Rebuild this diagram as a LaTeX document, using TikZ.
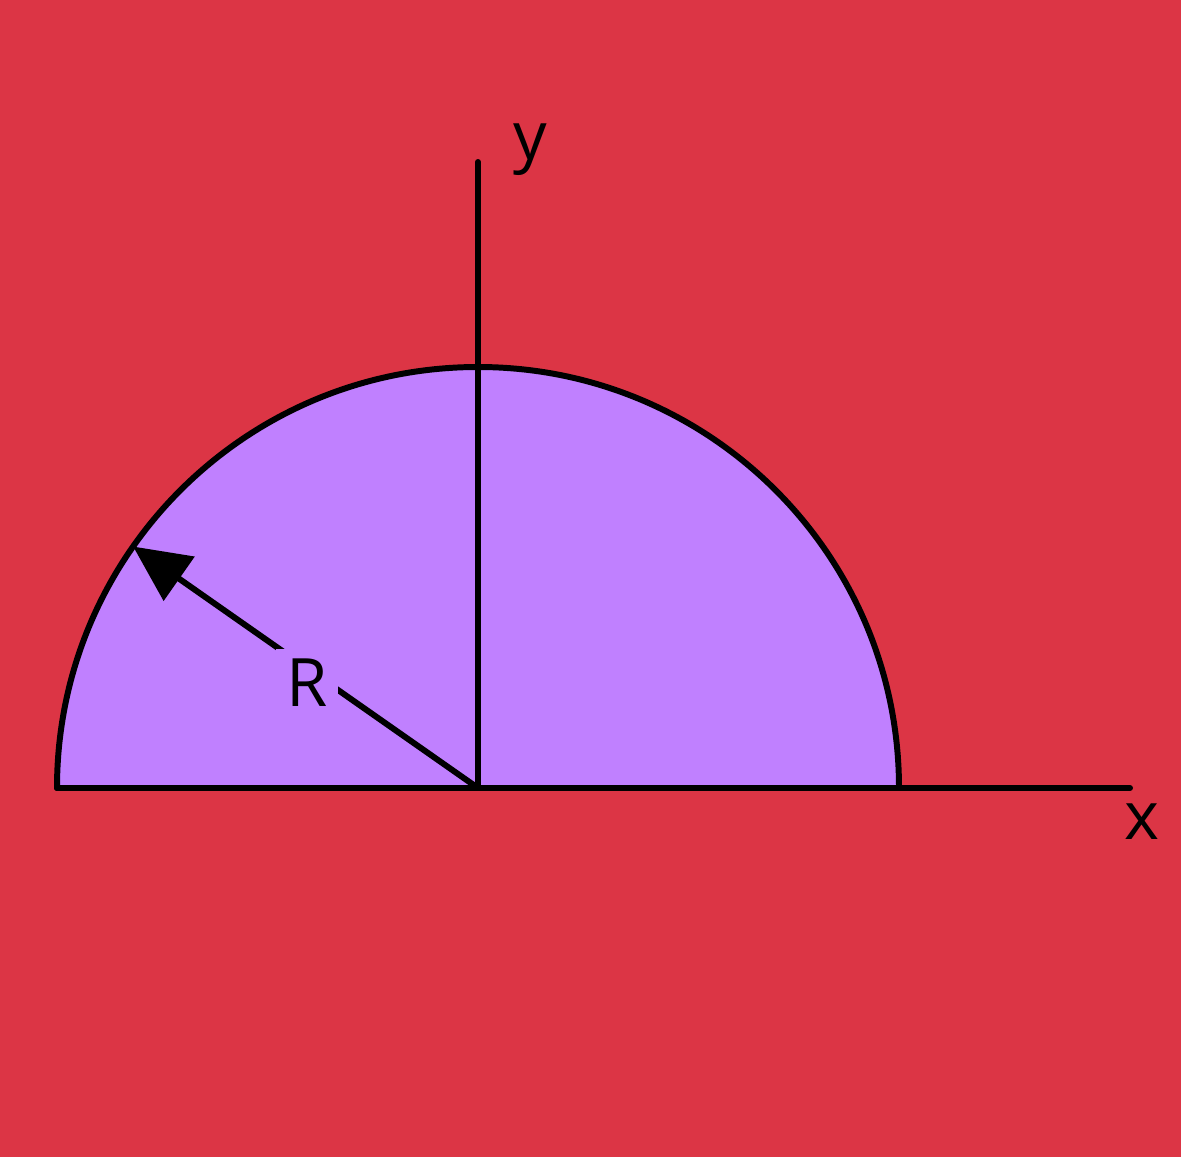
\documentclass[tikz,border=0pt]{standalone}
\usepackage{fontspec}
\setmainfont{Open Sans}
\usetikzlibrary{arrows.meta, positioning, calc}
\definecolor{bgred}{HTML}{DC3545}
\definecolor{discpurple}{HTML}{C080FF}
\tikzset{
  axisline/.style={line width=1.7pt, draw=black, line cap=round},
  rimline/.style={line width=1.7pt, draw=black, line join=round},
  radiusarrow/.style={-{Triangle[length=16pt, width=15pt]}, line width=1.7pt, draw=black},
  axislabel/.style={font=\fontsize{19}{22}\selectfont, inner sep=1pt},
}
\begin{document}
\begin{tikzpicture}
  % background
  \fill[bgred] (-4.78,-3.69) rectangle (7.03,7.88);
  \useasboundingbox (-4.78,-3.69) rectangle (7.03,7.88);

  \coordinate (O) at (0,0);
  \coordinate (Xend) at (6.52,0);
  \coordinate (Yend) at (0,6.26);
  \coordinate (Rim) at (145:4.21);

  % half disc
  \filldraw[fill=discpurple, rimline] (-4.21,0) arc[start angle=180, end angle=0, radius=4.21] -- cycle;

  % axes
  \draw[axisline] (-4.21,0) -- (Xend);
  \draw[axisline] (O) -- (Yend);
  \node[axislabel] (xlab) at (6.64,-0.34) {x};
  \node[axislabel] (ylab) at (0.52,6.38) {y};

  % radius
  \draw[radiusarrow] (O) -- (Rim);
  \node[axislabel, fill=discpurple, inner sep=3pt] (Rlab) at (-1.71,1.05) {R};
\end{tikzpicture}
\end{document}
